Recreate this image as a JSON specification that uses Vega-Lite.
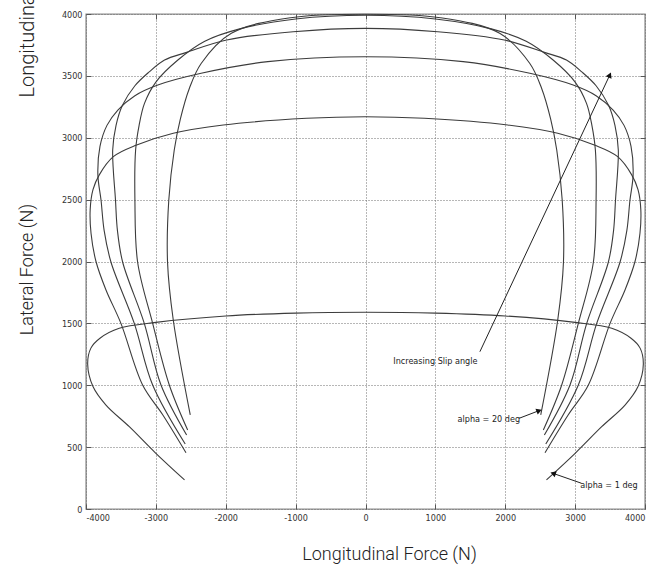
{
  "$schema": "https://vega.github.io/schema/vega-lite/v6.json",
  "width": 559,
  "height": 495,
  "autosize": {"type": "none"},
  "padding": {"left": 86, "top": 14, "right": 22, "bottom": 64},
  "background": "white",
  "config": {
    "view": {"stroke": "#8c8c8c", "strokeWidth": 1.4},
    "axis": {"domain": false}
  },
  "datasets": {
    "curves": [
      {"c":"a1","i":0,"fx":-2590,"fy":235},{"c":"a1","i":1,"fx":-3000,"fy":450},{"c":"a1","i":2,"fx":-3380,"fy":665},{"c":"a1","i":3,"fx":-3714,"fy":840},{"c":"a1","i":4,"fx":-3900,"fy":990},{"c":"a1","i":5,"fx":-3976,"fy":1170},{"c":"a1","i":6,"fx":-3930,"fy":1300},{"c":"a1","i":7,"fx":-3800,"fy":1380},{"c":"a1","i":8,"fx":-3524,"fy":1460},{"c":"a1","i":9,"fx":-3000,"fy":1508},{"c":"a1","i":10,"fx":-2000,"fy":1560},{"c":"a1","i":11,"fx":-1000,"fy":1583},{"c":"a1","i":12,"fx":0,"fy":1590},{"c":"a1","i":13,"fx":1000,"fy":1583},{"c":"a1","i":14,"fx":2000,"fy":1560},{"c":"a1","i":15,"fx":3000,"fy":1508},{"c":"a1","i":16,"fx":3524,"fy":1460},{"c":"a1","i":17,"fx":3800,"fy":1380},{"c":"a1","i":18,"fx":3930,"fy":1300},{"c":"a1","i":19,"fx":3976,"fy":1170},{"c":"a1","i":20,"fx":3900,"fy":990},{"c":"a1","i":21,"fx":3714,"fy":840},{"c":"a1","i":22,"fx":3380,"fy":665},{"c":"a1","i":23,"fx":3000,"fy":450},{"c":"a1","i":24,"fx":2590,"fy":235},
      {"c":"a2","i":0,"fx":-2569,"fy":455},{"c":"a2","i":1,"fx":-2900,"fy":760},{"c":"a2","i":2,"fx":-3190,"fy":1002},{"c":"a2","i":3,"fx":-3500,"fy":1500},{"c":"a2","i":4,"fx":-3714,"fy":1770},{"c":"a2","i":5,"fx":-3857,"fy":2000},{"c":"a2","i":6,"fx":-3928,"fy":2228},{"c":"a2","i":7,"fx":-3940,"fy":2420},{"c":"a2","i":8,"fx":-3900,"fy":2580},{"c":"a2","i":9,"fx":-3810,"fy":2700},{"c":"a2","i":10,"fx":-3609,"fy":2847},{"c":"a2","i":11,"fx":-3275,"fy":2941},{"c":"a2","i":12,"fx":-2751,"fy":3036},{"c":"a2","i":13,"fx":-2036,"fy":3103},{"c":"a2","i":14,"fx":-843,"fy":3157},{"c":"a2","i":15,"fx":0,"fy":3170},{"c":"a2","i":16,"fx":843,"fy":3157},{"c":"a2","i":17,"fx":2036,"fy":3103},{"c":"a2","i":18,"fx":2751,"fy":3036},{"c":"a2","i":19,"fx":3275,"fy":2941},{"c":"a2","i":20,"fx":3609,"fy":2847},{"c":"a2","i":21,"fx":3810,"fy":2700},{"c":"a2","i":22,"fx":3900,"fy":2580},{"c":"a2","i":23,"fx":3940,"fy":2420},{"c":"a2","i":24,"fx":3928,"fy":2228},{"c":"a2","i":25,"fx":3857,"fy":2000},{"c":"a2","i":26,"fx":3714,"fy":1770},{"c":"a2","i":27,"fx":3500,"fy":1500},{"c":"a2","i":28,"fx":3190,"fy":1002},{"c":"a2","i":29,"fx":2900,"fy":760},{"c":"a2","i":30,"fx":2569,"fy":455},
      {"c":"a3","i":0,"fx":-2580,"fy":525},{"c":"a3","i":1,"fx":-3046,"fy":1002},{"c":"a3","i":2,"fx":-3309,"fy":1500},{"c":"a3","i":3,"fx":-3642,"fy":1994},{"c":"a3","i":4,"fx":-3740,"fy":2250},{"c":"a3","i":5,"fx":-3785,"fy":2497},{"c":"a3","i":6,"fx":-3830,"fy":2700},{"c":"a3","i":7,"fx":-3800,"fy":2930},{"c":"a3","i":8,"fx":-3700,"fy":3100},{"c":"a3","i":9,"fx":-3544,"fy":3224},{"c":"a3","i":10,"fx":-3300,"fy":3340},{"c":"a3","i":11,"fx":-2972,"fy":3426},{"c":"a3","i":12,"fx":-2352,"fy":3521},{"c":"a3","i":13,"fx":-1398,"fy":3615},{"c":"a3","i":14,"fx":0,"fy":3655},{"c":"a3","i":15,"fx":1398,"fy":3615},{"c":"a3","i":16,"fx":2352,"fy":3521},{"c":"a3","i":17,"fx":2972,"fy":3426},{"c":"a3","i":18,"fx":3300,"fy":3340},{"c":"a3","i":19,"fx":3544,"fy":3224},{"c":"a3","i":20,"fx":3700,"fy":3100},{"c":"a3","i":21,"fx":3800,"fy":2930},{"c":"a3","i":22,"fx":3830,"fy":2700},{"c":"a3","i":23,"fx":3785,"fy":2497},{"c":"a3","i":24,"fx":3740,"fy":2250},{"c":"a3","i":25,"fx":3642,"fy":1994},{"c":"a3","i":26,"fx":3309,"fy":1500},{"c":"a3","i":27,"fx":3046,"fy":1002},{"c":"a3","i":28,"fx":2580,"fy":525},
      {"c":"a4","i":0,"fx":-2560,"fy":598},{"c":"a4","i":1,"fx":-2927,"fy":1002},{"c":"a4","i":2,"fx":-3166,"fy":1500},{"c":"a4","i":3,"fx":-3475,"fy":1994},{"c":"a4","i":4,"fx":-3550,"fy":2250},{"c":"a4","i":5,"fx":-3578,"fy":2497},{"c":"a4","i":6,"fx":-3618,"fy":2901},{"c":"a4","i":7,"fx":-3570,"fy":3100},{"c":"a4","i":8,"fx":-3480,"fy":3260},{"c":"a4","i":9,"fx":-3300,"fy":3420},{"c":"a4","i":10,"fx":-3100,"fy":3530},{"c":"a4","i":11,"fx":-2876,"fy":3628},{"c":"a4","i":12,"fx":-2560,"fy":3690},{"c":"a4","i":13,"fx":-1987,"fy":3790},{"c":"a4","i":14,"fx":-1035,"fy":3857},{"c":"a4","i":15,"fx":0,"fy":3884},{"c":"a4","i":16,"fx":1035,"fy":3857},{"c":"a4","i":17,"fx":1987,"fy":3790},{"c":"a4","i":18,"fx":2560,"fy":3690},{"c":"a4","i":19,"fx":2876,"fy":3628},{"c":"a4","i":20,"fx":3100,"fy":3530},{"c":"a4","i":21,"fx":3300,"fy":3420},{"c":"a4","i":22,"fx":3480,"fy":3260},{"c":"a4","i":23,"fx":3570,"fy":3100},{"c":"a4","i":24,"fx":3618,"fy":2901},{"c":"a4","i":25,"fx":3578,"fy":2497},{"c":"a4","i":26,"fx":3550,"fy":2250},{"c":"a4","i":27,"fx":3475,"fy":1994},{"c":"a4","i":28,"fx":3166,"fy":1500},{"c":"a4","i":29,"fx":2927,"fy":1002},{"c":"a4","i":30,"fx":2560,"fy":598},
      {"c":"a5","i":0,"fx":-2545,"fy":638},{"c":"a5","i":1,"fx":-2808,"fy":1002},{"c":"a5","i":2,"fx":-3046,"fy":1500},{"c":"a5","i":3,"fx":-3261,"fy":1994},{"c":"a5","i":4,"fx":-3300,"fy":2497},{"c":"a5","i":5,"fx":-3290,"fy":2901},{"c":"a5","i":6,"fx":-3240,"fy":3100},{"c":"a5","i":7,"fx":-3163,"fy":3278},{"c":"a5","i":8,"fx":-3000,"fy":3450},{"c":"a5","i":9,"fx":-2685,"fy":3628},{"c":"a5","i":10,"fx":-2300,"fy":3780},{"c":"a5","i":11,"fx":-1800,"fy":3880},{"c":"a5","i":12,"fx":-1000,"fy":3960},{"c":"a5","i":13,"fx":0,"fy":3990},{"c":"a5","i":14,"fx":1000,"fy":3960},{"c":"a5","i":15,"fx":1800,"fy":3880},{"c":"a5","i":16,"fx":2300,"fy":3780},{"c":"a5","i":17,"fx":2685,"fy":3628},{"c":"a5","i":18,"fx":3000,"fy":3450},{"c":"a5","i":19,"fx":3163,"fy":3278},{"c":"a5","i":20,"fx":3240,"fy":3100},{"c":"a5","i":21,"fx":3290,"fy":2901},{"c":"a5","i":22,"fx":3300,"fy":2497},{"c":"a5","i":23,"fx":3261,"fy":1994},{"c":"a5","i":24,"fx":3046,"fy":1500},{"c":"a5","i":25,"fx":2808,"fy":1002},{"c":"a5","i":26,"fx":2545,"fy":638},
      {"c":"a6","i":0,"fx":-2508,"fy":760},{"c":"a6","i":1,"fx":-2751,"fy":1527},{"c":"a6","i":2,"fx":-2833,"fy":1994},{"c":"a6","i":3,"fx":-2815,"fy":2497},{"c":"a6","i":4,"fx":-2737,"fy":2901},{"c":"a6","i":5,"fx":-2650,"fy":3150},{"c":"a6","i":6,"fx":-2520,"fy":3400},{"c":"a6","i":7,"fx":-2352,"fy":3600},{"c":"a6","i":8,"fx":-1920,"fy":3844},{"c":"a6","i":9,"fx":-1070,"fy":3970},{"c":"a6","i":10,"fx":0,"fy":3998},{"c":"a6","i":11,"fx":1070,"fy":3970},{"c":"a6","i":12,"fx":1920,"fy":3844},{"c":"a6","i":13,"fx":2352,"fy":3600},{"c":"a6","i":14,"fx":2520,"fy":3400},{"c":"a6","i":15,"fx":2650,"fy":3150},{"c":"a6","i":16,"fx":2737,"fy":2901},{"c":"a6","i":17,"fx":2815,"fy":2497},{"c":"a6","i":18,"fx":2833,"fy":1994},{"c":"a6","i":19,"fx":2751,"fy":1527},{"c":"a6","i":20,"fx":2508,"fy":760}
    ],
    "labels": [
      {"t":"Increasing Slip angle","fx":1000,"fy":1198},
      {"t":"alpha = 20 deg","fx":1765,"fy":725},
      {"t":"alpha = 1 deg","fx":3485,"fy":190}
    ],
    "arrows": [
      {"a":"inc","fx":1637,"fy":1271,"fx2":3496,"fy2":3507},
      {"a":"a20","fx":2199,"fy":733,"fx2":2485,"fy2":795},
      {"a":"a1","fx":3091,"fy":208,"fx2":2685,"fy2":288}
    ]
  },
  "layer": [
    {
      "data": {"name": "curves"},
      "mark": {"type": "line", "interpolate": "catmull-rom", "stroke": "#3c3c3c", "strokeWidth": 1.1},
      "encoding": {
        "x": {
          "field": "fx", "type": "quantitative",
          "scale": {"domain": [-4000, 4000], "nice": false, "zero": false},
          "axis": {
            "orient": "bottom",
            "values": [-4000, -3000, -2000, -1000, 0, 1000, 2000, 3000, 4000],
            "format": "d",
            "labelExpr": "replace(datum.label, '−', '-')",
            "grid": true, "gridDash": [1, 2], "gridColor": "#6e6e6e", "gridWidth": 1,
            "ticks": true, "tickSize": -5, "tickColor": "#555555", "tickWidth": 1,
            "labelPadding": 9, "labelFont": "'Liberation Sans Narrow', 'DejaVu Sans Condensed', 'Arial Narrow', sans-serif", "labelFontSize": 9, "labelColor": "#333333",
            "title": "Longitudinal Force (N)", "titleFont": "Roboto", "titleFontWeight": 300, "titleFontSize": 18, "titleColor": "#222222",
            "titleX": 303, "titleY": 50, "titleAlign": "center", "titleBaseline": "alphabetic"
          }
        },
        "y": {
          "field": "fy", "type": "quantitative",
          "scale": {"domain": [0, 4000], "nice": false, "zero": false},
          "axis": {
            "orient": "left",
            "values": [0, 500, 1000, 1500, 2000, 2500, 3000, 3500, 4000],
            "format": "d",
            "grid": true, "gridDash": [1, 2], "gridColor": "#6e6e6e", "gridWidth": 1,
            "ticks": true, "tickSize": -5, "tickColor": "#555555", "tickWidth": 1,
            "labelPadding": 9, "labelFont": "'Liberation Sans Narrow', 'DejaVu Sans Condensed', 'Arial Narrow', sans-serif", "labelFontSize": 9, "labelColor": "#333333",
            "title": "Lateral Force (N)", "titleFont": "Roboto", "titleFontWeight": 300, "titleFontSize": 18, "titleColor": "#222222",
            "titleX": -54, "titleY": 255, "titleAngle": -90, "titleAlign": "center", "titleBaseline": "alphabetic"
          }
        },
        "detail": {"field": "c"},
        "order": {"field": "i", "type": "quantitative"}
      }
    },
    {
      "data": {"name": "labels"},
      "mark": {"type": "text", "font": "'Liberation Sans Narrow', 'DejaVu Sans Condensed', 'Arial Narrow', sans-serif", "fontSize": 9, "fill": "#222222"},
      "encoding": {
        "x": {
          "field": "fx", "type": "quantitative",
          "scale": {"domain": [-4000, 4000], "nice": false, "zero": false},
          "axis": {"orient": "top", "values": [-3000, -2000, -1000, 0, 1000, 2000, 3000], "labels": false, "title": null, "grid": false, "ticks": true, "tickSize": -5, "tickColor": "#555555"}
        },
        "y": {
          "field": "fy", "type": "quantitative",
          "scale": {"domain": [0, 4000], "nice": false, "zero": false},
          "axis": {"orient": "right", "values": [500, 1000, 1500, 2000, 2500, 3000, 3500], "labels": false, "title": null, "grid": false, "ticks": true, "tickSize": -5, "tickColor": "#555555"}
        },
        "text": {"field": "t"}
      }
    },
    {
      "data": {"name": "arrows"},
      "mark": {"type": "rule", "stroke": "#222222", "strokeWidth": 1},
      "encoding": {
        "x": {"field": "fx", "type": "quantitative", "scale": {"domain": [-4000, 4000], "nice": false, "zero": false}, "axis": null},
        "y": {
          "field": "fy", "type": "quantitative", "scale": {"domain": [0, 4000], "nice": false, "zero": false},
          "axis": {"orient": "left", "labels": false, "ticks": false, "grid": false, "domain": false,
            "title": "Longitudinal Force (N)", "titleFont": "Roboto", "titleFontWeight": 300, "titleFontSize": 20, "titleColor": "#222222",
            "titleX": -53, "titleY": 83, "titleAngle": -90, "titleAlign": "left", "titleBaseline": "alphabetic"}
        },
        "x2": {"field": "fx2"},
        "y2": {"field": "fy2"}
      }
    },
    {
      "data": {"name": "arrows"},
      "transform": [{"filter": "datum.a === 'inc'"}],
      "mark": {"type": "point", "shape": "triangle-up", "filled": true, "fill": "#111111", "size": 40, "angle": 25, "opacity": 1},
      "encoding": {
        "x": {"field": "fx2", "type": "quantitative", "scale": {"domain": [-4000, 4000], "nice": false, "zero": false}, "axis": null},
        "y": {"field": "fy2", "type": "quantitative", "scale": {"domain": [0, 4000], "nice": false, "zero": false}, "axis": null}
      }
    },
    {
      "data": {"name": "arrows"},
      "transform": [{"filter": "datum.a === 'a20'"}],
      "mark": {"type": "point", "shape": "triangle-up", "filled": true, "fill": "#111111", "size": 40, "angle": 69, "opacity": 1},
      "encoding": {
        "x": {"field": "fx2", "type": "quantitative", "scale": {"domain": [-4000, 4000], "nice": false, "zero": false}, "axis": null},
        "y": {"field": "fy2", "type": "quantitative", "scale": {"domain": [0, 4000], "nice": false, "zero": false}, "axis": null}
      }
    },
    {
      "data": {"name": "arrows"},
      "transform": [{"filter": "datum.a === 'a1'"}],
      "mark": {"type": "point", "shape": "triangle-up", "filled": true, "fill": "#111111", "size": 40, "angle": 289, "opacity": 1},
      "encoding": {
        "x": {"field": "fx2", "type": "quantitative", "scale": {"domain": [-4000, 4000], "nice": false, "zero": false}, "axis": null},
        "y": {"field": "fy2", "type": "quantitative", "scale": {"domain": [0, 4000], "nice": false, "zero": false}, "axis": null}
      }
    }
  ],
  "resolve": {"axis": {"x": "independent", "y": "independent"}}
}
